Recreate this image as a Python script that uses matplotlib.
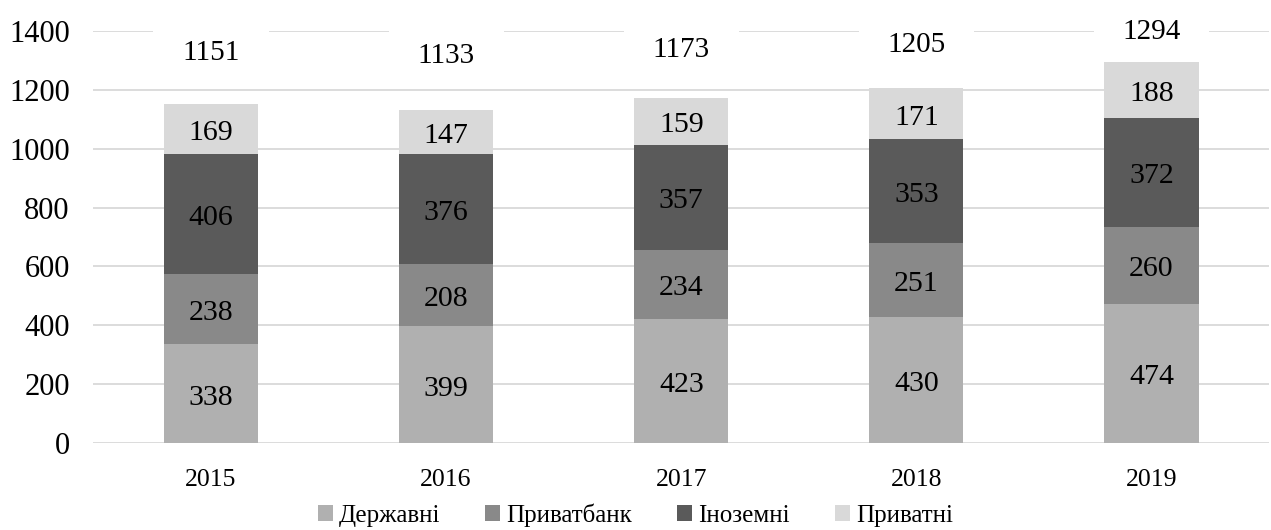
import numpy as np
import matplotlib
matplotlib.use("Agg")
import matplotlib.pyplot as plt
from matplotlib.patches import Rectangle

years = ["2015", "2016", "2017", "2018", "2019"]
derzhavni = [338, 399, 423, 430, 474]
pryvatbank = [238, 208, 234, 251, 260]
inozemni = [406, 376, 357, 353, 372]
pryvatni = [169, 147, 159, 171, 188]
totals = [1151, 1133, 1173, 1205, 1294]

series = [("Державні", derzhavni, "#B0B0B0"),
          ("Приватбанк", pryvatbank, "#898989"),
          ("Іноземні", inozemni, "#5A5A5A"),
          ("Приватні", pryvatni, "#D9D9D9")]

plt.rcParams.update({"font.family": ["Liberation Serif", "DejaVu Serif"],
                     "font.size": 20})

fig = plt.figure(figsize=(12.71, 5.30), dpi=100)
ax = fig.add_axes([0.0735, 0.164, 0.925, 0.7775])

x = np.arange(len(years))
bottom = np.zeros(len(years))
for name, vals, color in series:
    bars = ax.bar(x, vals, width=0.4, bottom=bottom, color=color, label=name, zorder=3)
    ax.bar_label(bars, labels=[str(v) for v in vals], label_type="center",
                 fontsize=21.5, zorder=4, padding=-3)
    bottom += np.array(vals)

# підписи загальної суми на білому тлі, що перекриває сітку
for xi, t in zip(x, totals):
    ty = t / 2 + 750
    ax.add_patch(Rectangle((xi - 0.245, ty - 105), 0.49, 210, facecolor="white",
                           edgecolor="none", zorder=2, clip_on=False))
    ax.text(xi, ty, str(t), ha="center", va="center", fontsize=21, zorder=5, clip_on=False)

ax.set_xlim(-0.5, len(years) - 0.5)
ax.set_ylim(0, 1400)
ax.set_yticks(range(0, 1401, 200))
ax.set_xticks(x, years)
ax.tick_params(axis="y", length=0, pad=17, labelsize=22)
ax.tick_params(axis="x", length=0, pad=19, labelsize=18.5)
ax.grid(axis="y", color="#D9D9D9", linewidth=1.3, zorder=1)
ax.set_axisbelow(True)
for s in ax.spines.values():
    s.set_visible(False)

# легенда по центру всього рисунка
fig.legend(loc="center", bbox_to_anchor=(0.5, 0.028), ncol=4, frameon=False,
           fontsize=18, handlelength=0.6, handleheight=0.6, handletextpad=0.25,
           columnspacing=1.8, borderaxespad=0)

fig.savefig("out.png", dpi=100)
